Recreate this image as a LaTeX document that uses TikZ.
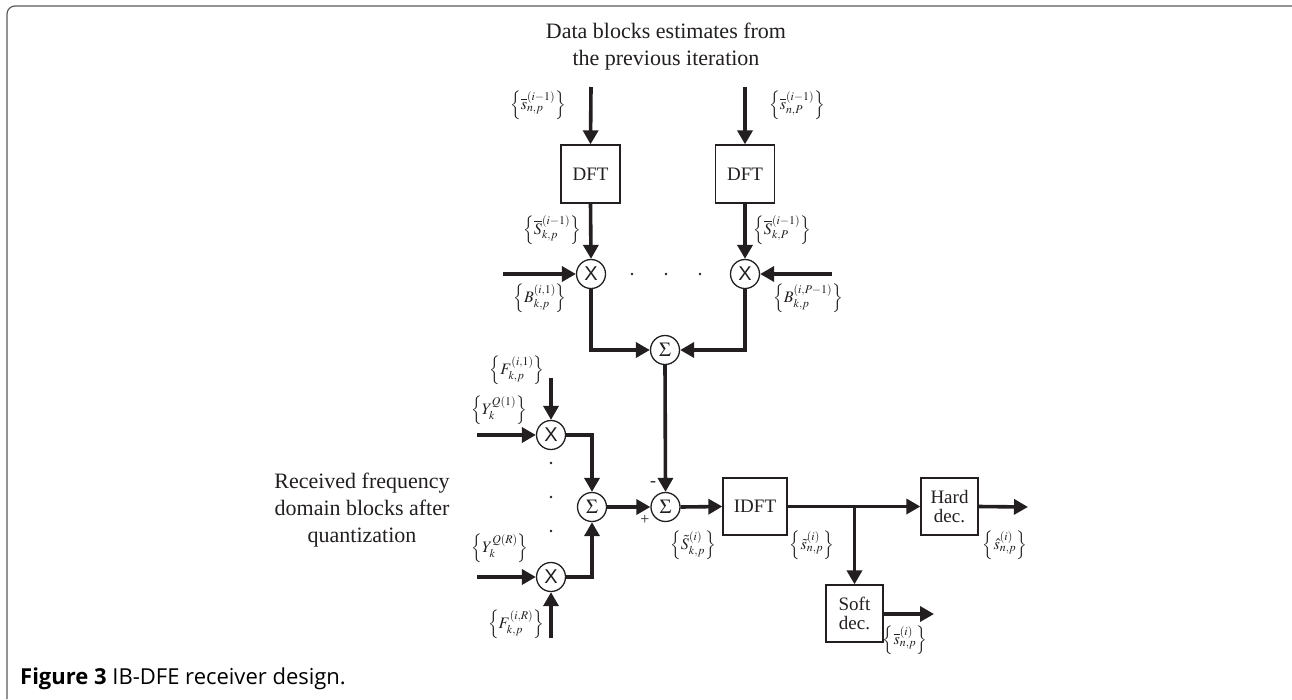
\documentclass[tikz,border=0pt]{standalone}
\usepackage{mathptmx}
\usepackage{fontspec}
\setmainfont{Liberation Serif}
\newfontfamily\capfont{Open Sans}
\newfontfamily\xfont{Liberation Sans}
\usetikzlibrary{arrows.meta}
\definecolor{ink}{HTML}{231F20}
\begin{document}
\begin{tikzpicture}[x=1pt,y=-1pt,
  arr/.style={line width=3.6pt,draw=ink,-{Triangle[length=14pt,width=15pt]}},
  ln/.style={line width=3.6pt,draw=ink},
  blk/.style={draw=ink,line width=1.3pt,minimum width=58pt,minimum height=57pt,inner sep=0pt,font=\fontsize{19}{22}\selectfont,align=center,text=ink},
  op/.style={draw=ink,line width=1.3pt,circle,minimum size=29pt,inner sep=0pt,fill=white,text=ink},
  lbl/.style={font=\fontsize{16}{18}\selectfont,text=ink,inner sep=0pt},
  big/.style={font=\fontsize{22}{27}\selectfont,align=center,text=ink}]
\useasboundingbox (0,0) rectangle (1292,699);
\draw[black!65,line width=1.2pt,rounded corners=8pt] (7,699) -- (7,6) -- (1292,6);

\node[big] (title) at (666,47) {Data blocks estimates from\\the previous iteration};
\node[big] (recv) at (362,510) {Received frequency\\domain blocks after\\quantization};

% blocks
\node[blk,minimum width=59pt,minimum height=58pt] (dft1) at (590.5,174) {DFT};
\node[blk,minimum width=59pt,minimum height=58pt] (dft2) at (745,174) {DFT};
\node[blk,minimum width=64pt] (idft) at (755,506.5) {IDFT};
\node[blk,minimum width=57pt] (hard) at (949.5,506.5) {Hard\\[-3pt]dec.};
\node[blk,minimum width=57pt] (soft) at (854.5,613.5) {Soft\\[-3pt]dec.};

% operators
\node[op,font=\xfont\fontsize{20}{20}\selectfont] (m1) at (591,274) {X};
\node[op,font=\xfont\fontsize{20}{20}\selectfont] (m2) at (745,274) {X};
\node[op,font=\xfont\fontsize{20}{20}\selectfont] (mf1) at (551,435) {X};
\node[op,font=\xfont\fontsize{20}{20}\selectfont] (mf2) at (551,577) {X};
\node[op,font=\fontsize{20}{20}\selectfont] (sum0) at (665,350) {$\Sigma$};
\node[op,font=\fontsize{20}{20}\selectfont] (sum1) at (592,507) {$\Sigma$};
\node[op,font=\fontsize{20}{20}\selectfont] (sum2) at (665.5,507) {$\Sigma$};

% free ends
\coordinate (in1) at (591,87);
\coordinate (in2) at (745,87);
\coordinate (b1) at (503,274);
\coordinate (b2) at (832,274);
\coordinate (f1) at (551,378);
\coordinate (y1) at (477,435);
\coordinate (yr) at (477,577);
\coordinate (fr) at (551,638);
\coordinate (hout) at (1028,507);
\coordinate (sout) at (934,614);
\coordinate (j) at (soft.north |- idft.east);

% dots
\foreach \x in {632,666,700} \fill[ink] (\x,274) circle (1.4pt);
\foreach \y in {463,497,531} \fill[ink] (551,\y) circle (1.4pt);

% connectors
\draw[arr] (in1) -- (dft1.north);
\draw[arr] (in2) -- (dft2.north);
\draw[arr] (dft1.south) -- (m1.north);
\draw[arr] (dft2.south) -- (m2.north);
\draw[arr] (b1) -- (m1.west);
\draw[arr] (b2) -- (m2.east);
\draw[arr] (m1.south) |- (sum0.west);
\draw[arr] (m2.south) |- (sum0.east);
\draw[arr] (sum0.south) -- (sum2.north);
\draw[arr] (f1) -- (mf1.north);
\draw[arr] (y1) -- (mf1.west);
\draw[arr] (yr) -- (mf2.west);
\draw[arr] (fr) -- (mf2.south);
\draw[arr] (mf1.east) -| (sum1.north);
\draw[arr] (mf2.east) -| (sum1.south);
\draw[arr] (sum1.east) -- (sum2.west);
\draw[arr] (sum2.east) -- (idft.west);
\draw[arr] (idft.east) -- (hard.west);
\draw[arr] (j) -- (soft.north);
\draw[arr] (hard.east) -- (hout);
\draw[arr] (soft.east |- sout) -- (sout);

% labels
\node[lbl] (ls1) at (538,105) {$\left\{\overline{s}^{(i-1)}_{n,p}\right\}$};
\node[lbl] (ls2) at (797,105) {$\left\{\overline{s}^{(i-1)}_{n,P}\right\}$};
\node[lbl] (lS1) at (552,230) {$\left\{\overline{S}^{(i-1)}_{k,p}\right\}$};
\node[lbl] (lS2) at (782,230) {$\left\{\overline{S}^{(i-1)}_{k,P}\right\}$};
\node[lbl] (lB1) at (540,298) {$\left\{B^{(i,1)}_{k,p}\right\}$};
\node[lbl] (lB2) at (808,298) {$\left\{B^{(i,P-1)}_{k,p}\right\}$};
\node[lbl] (lF1) at (517,370) {$\left\{F^{(i,1)}_{k,p}\right\}$};
\node[lbl] (lY1) at (499,410) {$\left\{Y^{Q(1)}_{k}\right\}$};
\node[lbl] (lYR) at (500,548) {$\left\{Y^{Q(R)}_{k}\right\}$};
\node[lbl] (lFR) at (516,624) {$\left\{F^{(i,R)}_{k,p}\right\}$};
\node[lbl] (lSt) at (693,545) {$\left\{\tilde{S}^{(i)}_{k,p}\right\}$};
\node[lbl] (lst) at (812,545) {$\left\{\tilde{s}^{(i)}_{n,p}\right\}$};
\node[lbl] (lsh) at (1005,545) {$\left\{\hat{s}^{(i)}_{n,p}\right\}$};
\node[lbl] (lsb) at (905,640) {$\left\{\overline{s}^{(i)}_{n,p}\right\}$};
\node[font=\fontsize{18}{18}\selectfont,text=ink,inner sep=0pt] (minus) at (653,484) {-};
\node[font=\fontsize{16}{16}\selectfont,text=ink,inner sep=0pt] (plus) at (645,520) {+};

% caption
\node[anchor=base west,inner sep=0pt,font=\capfont\fontsize{22}{24}\selectfont,text=black] (cap) at (20,684) {\textbf{Figure 3} IB-DFE receiver design.};
\end{tikzpicture}
\end{document}
